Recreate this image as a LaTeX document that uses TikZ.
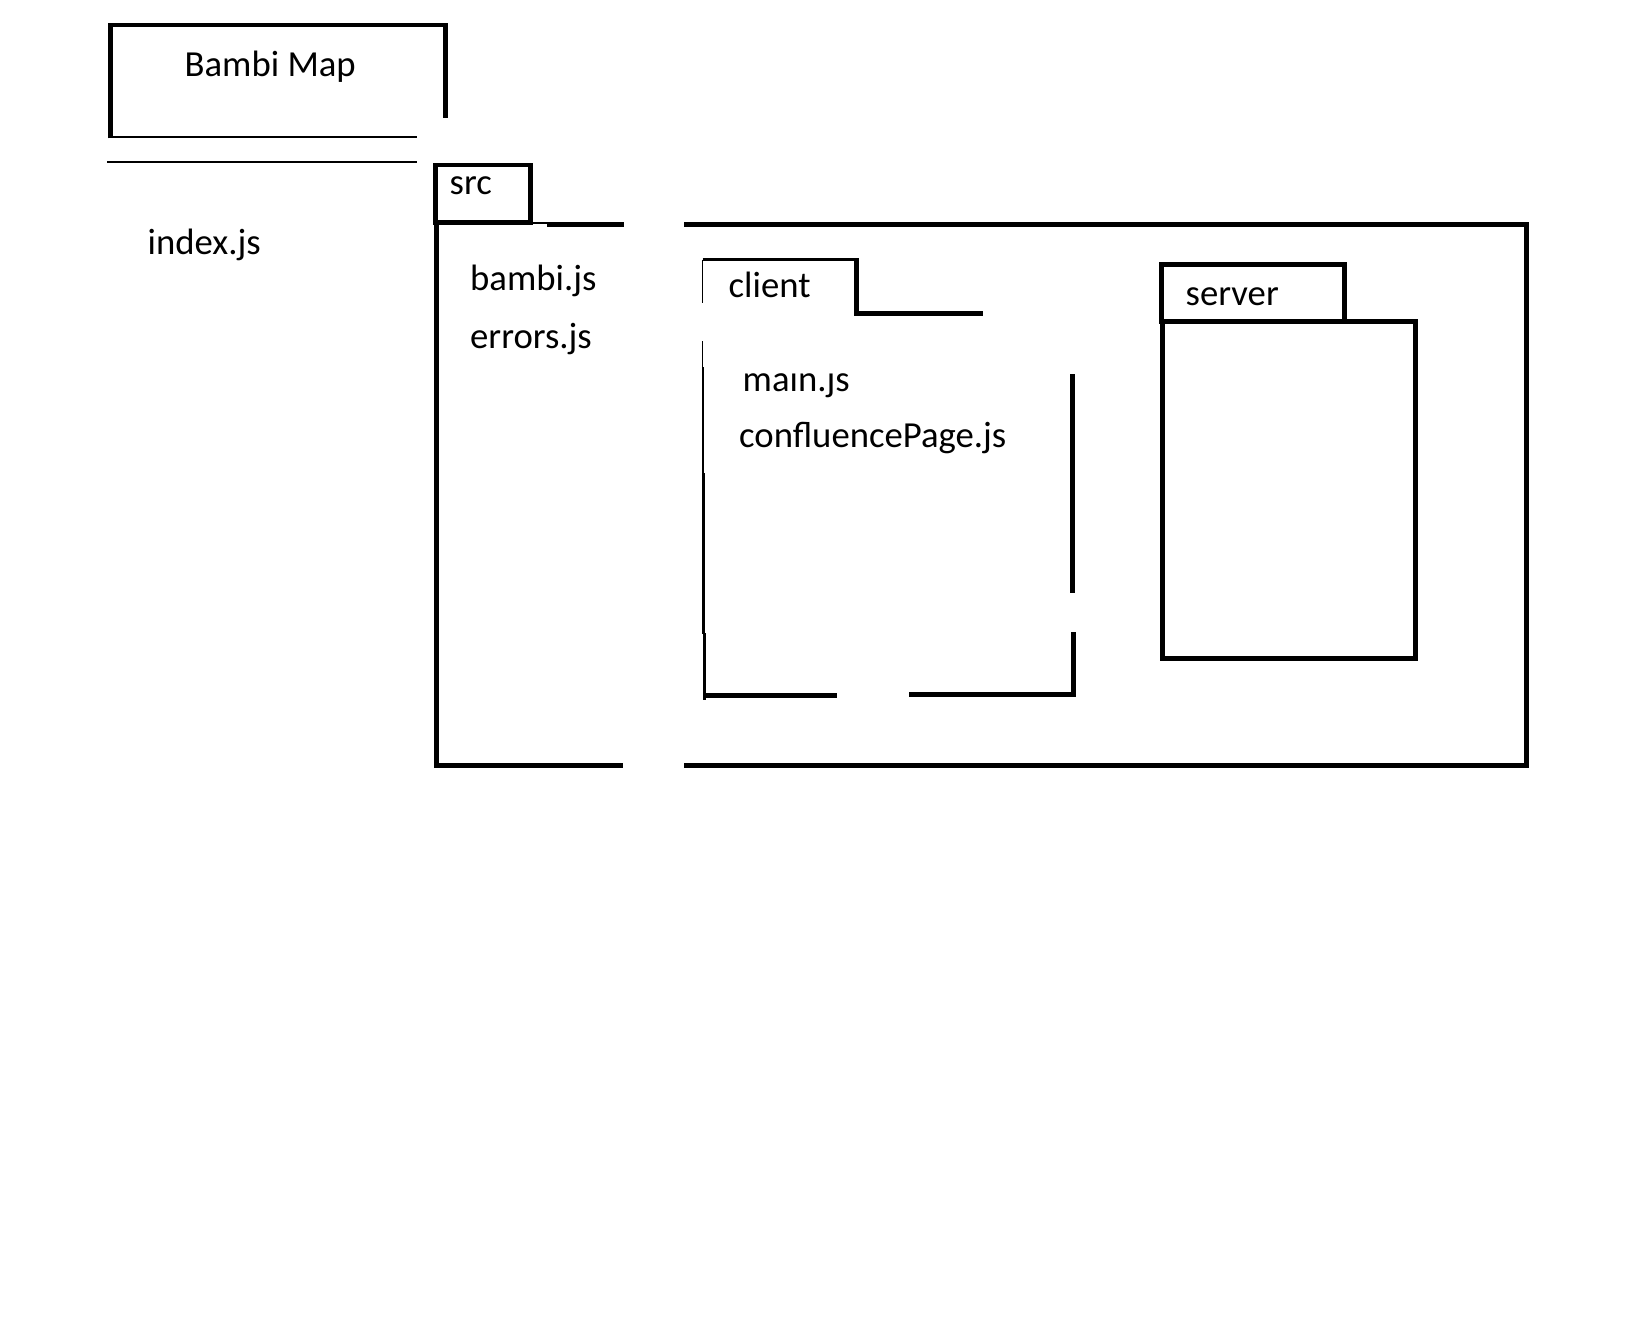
\documentclass[tikz,border=0pt]{standalone}
\usepackage{fontspec}
\setmainfont{Carlito}
\begin{document}
\begin{tikzpicture}[x=1pt,y=-1pt,
  label/.style={anchor=base west,inner sep=0pt,font=\fontsize{36.7pt}{40pt}\selectfont},
  heavy/.style={line width=4.6pt},
  medium/.style={line width=2.7pt},
  light/.style={line width=1.4pt}]
  % page
  \fill[white] (0,0) rectangle (1637,1326);
  \useasboundingbox (0,0) rectangle (1637,1326);

  % title box
  \draw[heavy] (110.5,138.3) -- (110.5,25) -- (445.5,25) -- (445.5,118.3);
  \draw[medium] (108,137) -- (416.7,137);
  \draw[medium] (107.3,162) -- (416.7,162);
  \node[label] (title) at (184.5,76) {Bambi Map};
  \node[label] (index) at (147.5,254) {index.js};

  % src folder
  \draw[heavy] (435.3,164.8) rectangle (530.2,222.3);
  \draw[medium] (530.2,223) -- (547,223);
  \draw[heavy] (547,224.5) -- (624,224.5);
  \draw[heavy] (436.5,222.5) -- (436.5,765.2) -- (623.3,765.2);
  \draw[heavy] (684,224.5) -- (1526.5,224.5) -- (1526.5,765.2) -- (684,765.2);
  \node[label] (src) at (449.5,194.5) {src};
  \node[label] (bambi) at (470,290.5) {bambi.js};
  \node[label] (errors) at (470,348) {errors.js};

  % client folder
  \draw[medium] (702.5,259.5) -- (856.2,259.5);
  \draw[light] (702.5,259.5) -- (702.5,303.3);
  \draw[heavy] (856.2,258.3) -- (856.2,313.2) -- (982.7,313.2);
  \draw[light] (702.4,341) -- (702.4,367);
  \draw[light] (703,367) -- (703,473.5);
  \draw[line width=2.3pt] (703.6,473) -- (703.6,633.5);
  \draw[line width=3pt] (704.5,633) -- (704.5,700);
  \draw[line width=5pt] (703,695.8) -- (836.7,695.8);
  \draw[line width=5pt] (909,694.2) -- (1073.5,694.2) -- (1073.5,631.7);
  \draw[line width=5pt] (1072.5,374) -- (1072.5,593.3);
  \node[label] (client) at (728.5,297.5) {client};
  \begin{scope}
    \clip (730,373) rectangle (870,412);
    \node[label] (mainjs) at (742.5,391) {main.js};
  \end{scope}
  \node[label] (confluence) at (739,447.5) {confluencePage.js};

  % server folder
  \draw[heavy] (1161.7,264.7) rectangle (1344.2,321.5);
  \draw[heavy] (1273.3,321.7) -- (1415.5,321.7) -- (1415.5,658.3) -- (1162.5,658.3) -- (1162.5,321.5);
  \node[label] (server) at (1185.5,305.5) {server};
\end{tikzpicture}
\end{document}
